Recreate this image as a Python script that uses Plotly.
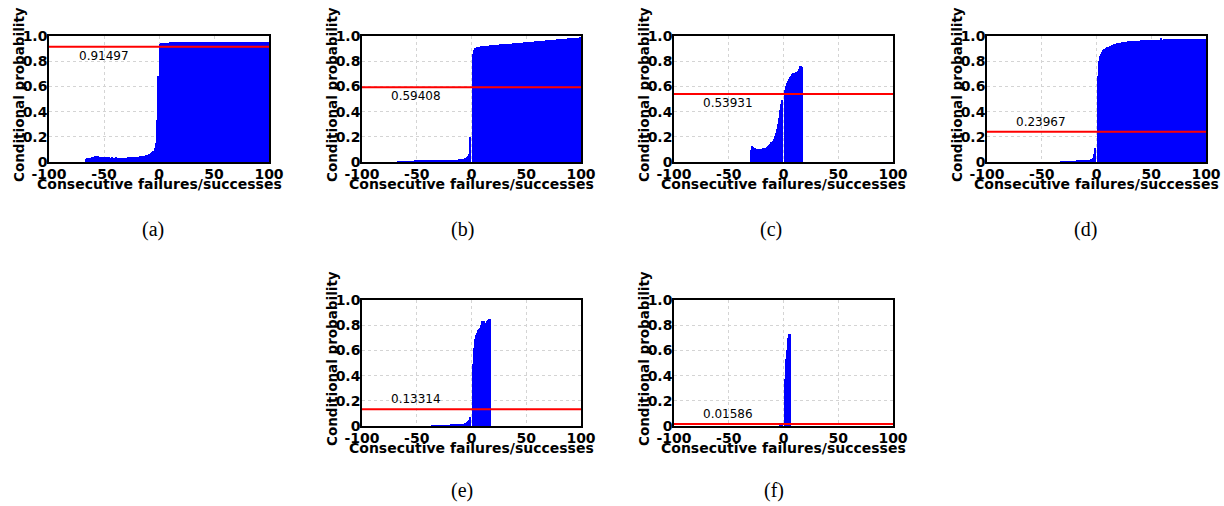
import plotly.graph_objects as go

# ---------------- data ----------------
mean_values = [0.91497, 0.59408, 0.53931, 0.23967, 0.13314, 0.01586]
captions = ["(a)", "(b)", "(c)", "(d)", "(e)", "(f)"]

x_tick_vals = [-100, -50, 0, 50, 100]
x_tick_text = ["-100", "-50", "0", "50", "100"]
y_tick_vals = [0, 0.2, 0.4, 0.6, 0.8, 1.0]
y_tick_text = ["0", "0.2", "0.4", "0.6", "0.8", "1.0"]

# (a) failures -66..-1, successes 1..100
a_neg_start = -66
a_neg = [0.020, 0.028, 0.030, 0.033, 0.035, 0.036, 0.038, 0.040, 0.045, 0.050,
         0.048, 0.045, 0.043, 0.042, 0.040, 0.040, 0.040, 0.038, 0.038, 0.037,
         0.036, 0.036, 0.035, 0.036, 0.035, 0.034, 0.035, 0.036, 0.035, 0.034,
         0.034, 0.033, 0.032, 0.030, 0.030, 0.030, 0.031, 0.032, 0.040, 0.041,
         0.040, 0.040, 0.038, 0.041, 0.040, 0.040, 0.036, 0.040, 0.042, 0.044,
         0.045, 0.046, 0.048, 0.050, 0.052, 0.055, 0.058, 0.060, 0.063, 0.068,
         0.078, 0.090, 0.110, 0.150, 0.330, 0.680]
a_pos = [0.940, 0.942, 0.944, 0.945, 0.945, 0.946, 0.946, 0.947, 0.948, 0.950,
         0.952, 0.953, 0.953, 0.954, 0.954, 0.954, 0.955, 0.955, 0.955, 0.955,
         0.955, 0.955, 0.956, 0.956, 0.955, 0.955, 0.956, 0.956, 0.956, 0.955,
         0.955, 0.956, 0.956, 0.956, 0.955, 0.955, 0.956, 0.956, 0.956, 0.956,
         0.956, 0.955, 0.955, 0.956, 0.956, 0.956, 0.956, 0.955, 0.955, 0.956,
         0.956, 0.956, 0.956, 0.955, 0.955, 0.956, 0.956, 0.956, 0.956, 0.956,
         0.955, 0.955, 0.956, 0.956, 0.956, 0.956, 0.955, 0.955, 0.956, 0.956,
         0.956, 0.956, 0.956, 0.955, 0.955, 0.956, 0.956, 0.956, 0.956, 0.955,
         0.955, 0.956, 0.956, 0.956, 0.956, 0.956, 0.955, 0.955, 0.956, 0.956,
         0.956, 0.956, 0.955, 0.955, 0.955, 0.956, 0.955, 0.954, 0.953, 0.950]

# (b) failures -67..-1, successes 1..100
b_neg_start = -67
b_neg = [0.004, 0.005, 0.005, 0.005, 0.005, 0.005, 0.006, 0.006, 0.006, 0.006,
         0.007, 0.007, 0.007, 0.007, 0.007, 0.008, 0.008, 0.008, 0.008, 0.008,
         0.008, 0.008, 0.009, 0.009, 0.009, 0.009, 0.009, 0.010, 0.010, 0.010,
         0.010, 0.010, 0.010, 0.010, 0.011, 0.011, 0.011, 0.011, 0.011, 0.012,
         0.012, 0.012, 0.012, 0.013, 0.013, 0.013, 0.014, 0.014, 0.015, 0.015,
         0.016, 0.016, 0.017, 0.018, 0.018, 0.019, 0.020, 0.021, 0.022, 0.023,
         0.025, 0.028, 0.032, 0.038, 0.045, 0.060, 0.200]
b_pos = [0.860, 0.890, 0.903, 0.908, 0.911, 0.913, 0.915, 0.916, 0.917, 0.918,
         0.919, 0.920, 0.921, 0.922, 0.923, 0.924, 0.925, 0.926, 0.927, 0.928,
         0.929, 0.930, 0.930, 0.931, 0.932, 0.933, 0.933, 0.934, 0.935, 0.935,
         0.936, 0.937, 0.937, 0.938, 0.939, 0.940, 0.940, 0.941, 0.942, 0.943,
         0.944, 0.944, 0.945, 0.946, 0.947, 0.948, 0.948, 0.949, 0.950, 0.951,
         0.952, 0.952, 0.953, 0.954, 0.955, 0.955, 0.956, 0.957, 0.958, 0.959,
         0.959, 0.960, 0.961, 0.962, 0.962, 0.963, 0.964, 0.965, 0.965, 0.966,
         0.967, 0.968, 0.968, 0.969, 0.970, 0.971, 0.972, 0.973, 0.973, 0.974,
         0.975, 0.976, 0.977, 0.977, 0.978, 0.979, 0.980, 0.981, 0.981, 0.982,
         0.983, 0.984, 0.985, 0.986, 0.986, 0.987, 0.988, 0.988, 0.989, 0.990]

# (c) failures -30..-1, successes 1..17
c_neg_start = -30
c_neg = [0.095, 0.125, 0.118, 0.115, 0.112, 0.105, 0.100, 0.102, 0.103, 0.105,
         0.105, 0.108, 0.110, 0.112, 0.115, 0.120, 0.128, 0.132, 0.145, 0.160,
         0.170, 0.185, 0.205, 0.230, 0.260, 0.300, 0.350, 0.410, 0.460, 0.490]
c_pos = [0.570, 0.600, 0.625, 0.645, 0.660, 0.675, 0.685, 0.695, 0.705, 0.710,
         0.712, 0.715, 0.720, 0.740, 0.765, 0.760, 0.755]

# (d) failures -32..-1, successes 1..100
d_neg_start = -32
d_neg = [0.004, 0.004, 0.005, 0.005, 0.005, 0.005, 0.005, 0.006, 0.006, 0.006,
         0.006, 0.007, 0.007, 0.007, 0.008, 0.008, 0.008, 0.009, 0.009, 0.010,
         0.010, 0.011, 0.012, 0.013, 0.014, 0.016, 0.018, 0.021, 0.025, 0.035,
         0.060, 0.110]
d_pos = [0.680, 0.800, 0.840, 0.860, 0.875, 0.885, 0.893, 0.900, 0.905, 0.910,
         0.914, 0.918, 0.922, 0.926, 0.930, 0.933, 0.936, 0.939, 0.942, 0.944,
         0.946, 0.948, 0.950, 0.951, 0.953, 0.954, 0.955, 0.956, 0.957, 0.958,
         0.959, 0.960, 0.960, 0.961, 0.962, 0.962, 0.963, 0.963, 0.964, 0.964,
         0.965, 0.965, 0.966, 0.966, 0.967, 0.967, 0.968, 0.968, 0.968, 0.969,
         0.969, 0.970, 0.970, 0.970, 0.971, 0.971, 0.971, 0.972, 0.985, 0.972,
         0.972, 0.973, 0.973, 0.973, 0.973, 0.974, 0.974, 0.974, 0.974, 0.974,
         0.974, 0.975, 0.975, 0.975, 0.975, 0.975, 0.975, 0.975, 0.975, 0.975,
         0.975, 0.975, 0.975, 0.975, 0.975, 0.975, 0.975, 0.975, 0.975, 0.975,
         0.975, 0.975, 0.975, 0.975, 0.975, 0.975, 0.975, 0.975, 0.975, 0.975]

# (e) failures -36..-1, successes 1..17
e_neg_start = -36
e_neg = [0.004, 0.004, 0.005, 0.005, 0.005, 0.005, 0.005, 0.005, 0.006, 0.006,
         0.006, 0.006, 0.006, 0.007, 0.007, 0.007, 0.007, 0.008, 0.008, 0.008,
         0.008, 0.009, 0.009, 0.010, 0.010, 0.011, 0.012, 0.013, 0.015, 0.017,
         0.020, 0.025, 0.030, 0.038, 0.050, 0.075]
e_pos = [0.490, 0.620, 0.690, 0.720, 0.740, 0.760, 0.770, 0.780, 0.800, 0.830,
         0.830, 0.820, 0.810, 0.830, 0.840, 0.850, 0.850]

# (f) failures -3..-1, successes 1..6
f_neg_start = -3
f_neg = [0.004, 0.006, 0.010]
f_pos = [0.370, 0.530, 0.600, 0.700, 0.730, 0.730]

series = [
    (a_neg_start, a_neg, a_pos),
    (b_neg_start, b_neg, b_pos),
    (c_neg_start, c_neg, c_pos),
    (d_neg_start, d_neg, d_pos),
    (e_neg_start, e_neg, e_pos),
    (f_neg_start, f_neg, f_pos),
]

# ---------------- layout (pixel boxes of each panel) ----------------
W, H = 1224, 506
boxes = [  # left, top, right, bottom in px
    (49, 36, 269, 162),
    (362, 36, 581, 162),
    (674, 36, 893, 162),
    (987, 36, 1206, 162),
    (362, 300, 581, 426),
    (674, 300, 893, 426),
]
caption_pos = [(153, 229), (462, 229), (771, 229), (1085, 229), (462, 490), (774, 490)]
label_below = [True, True, True, False, False, False]

BOLD = dict(family="DejaVu Sans", size=14, color="black", weight="bold")

fig = go.Figure()
annotations = []
layout_axes = {}

for i, ((neg_start, neg, pos), mean) in enumerate(zip(series, mean_values)):
    n = i + 1
    xname = "x" if n == 1 else f"x{n}"
    yname = "y" if n == 1 else f"y{n}"
    xs = list(range(neg_start, 0)) + list(range(1, len(pos) + 1))
    fig.add_trace(go.Bar(
        x=xs, y=neg + pos, width=1, xaxis=xname, yaxis=yname,
        marker=dict(color="#0000ff", line=dict(width=0)),
        showlegend=False, hoverinfo="skip"))
    fig.add_trace(go.Scatter(
        x=[-100, 100], y=[mean, mean], mode="lines", xaxis=xname, yaxis=yname,
        line=dict(color="#ff0000", width=2), showlegend=False, hoverinfo="skip"))

    l, t, r, b = boxes[i]
    common = dict(showline=True, mirror=True, linecolor="black", linewidth=1.5,
                  showgrid=True, gridcolor="#d4d4d4", griddash="dot", gridwidth=1,
                  zeroline=False, ticks="", tickfont=BOLD, fixedrange=True,
                  automargin=False)
    layout_axes["xaxis" if n == 1 else f"xaxis{n}"] = dict(
        domain=[l / W, r / W], anchor=yname, range=[-100, 100],
        tickmode="array", tickvals=x_tick_vals, ticktext=x_tick_text,
        ticklabelstandoff=-2, **common)
    layout_axes["yaxis" if n == 1 else f"yaxis{n}"] = dict(
        domain=[1 - b / H, 1 - t / H], anchor=xname, range=[0, 1],
        tickmode="array", tickvals=y_tick_vals, ticktext=y_tick_text,
        ticklabelstandoff=-3, **common)

    # mean value label
    annotations.append(dict(
        x=-75, y=mean, xref=xname, yref=yname, text=f"{mean:.5f}",
        showarrow=False, xanchor="left", yanchor="middle",
        yshift=-9 if label_below[i] else 10,
        font=dict(family="DejaVu Sans", size=12, color="black")))
    # axis titles
    annotations.append(dict(
        x=0.5, y=0, xref=f"{xname} domain", yref=f"{yname} domain",
        text="Consecutive failures/successes", showarrow=False,
        xanchor="center", yanchor="middle", yshift=-22,
        font=dict(family="DejaVu Sans", size=14, color="black", weight="bold")))
    annotations.append(dict(
        x=0, y=0.5, xref=f"{xname} domain", yref=f"{yname} domain",
        text="Conditional probability", showarrow=False, textangle=-90,
        xanchor="center", yanchor="middle", xshift=-30, yshift=4,
        font=dict(family="DejaVu Sans", size=13.5, color="black", weight="bold")))
    # caption
    cx, cy = caption_pos[i]
    annotations.append(dict(
        x=cx / W, y=1 - cy / H, xref="paper", yref="paper", text=captions[i],
        showarrow=False, xanchor="center", yanchor="middle",
        font=dict(family="Liberation Serif", size=20, color="black")))

fig.update_layout(
    width=W, height=H, margin=dict(l=0, r=0, t=0, b=0, autoexpand=False),
    paper_bgcolor="white", plot_bgcolor="white",
    bargap=0, barmode="overlay", showlegend=False,
    annotations=annotations, **layout_axes)

fig.write_html("out.html", config={"displayModeBar": False})
